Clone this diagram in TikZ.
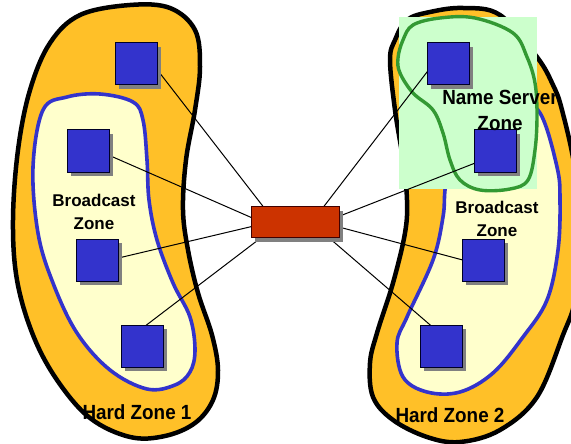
\documentclass[tikz,border=0pt]{standalone}
\usepackage{fontspec}
\setmainfont{Liberation Sans}
\usetikzlibrary{shadows,calc}
\definecolor{zoneorange}{RGB}{255,192,40}
\definecolor{cream}{RGB}{255,255,204}
\definecolor{hostblue}{RGB}{51,51,204}
\definecolor{nsgreen}{RGB}{51,153,51}
\definecolor{nsfill}{RGB}{204,255,204}
\definecolor{switchred}{RGB}{204,51,0}
\definecolor{shadowgray}{RGB}{128,128,128}
\pgfdeclarelayer{blobs}
\pgfdeclarelayer{wires}
\pgfsetlayers{blobs,wires,main}
\tikzset{
  hardzone/.style={fill=zoneorange, draw=black, line width=4.5pt},
  bcastzone/.style={fill=cream, draw=hostblue, line width=3.6pt},
  nszone/.style={draw=nsgreen, line width=3.4pt},
  host/.style={draw=black!85!blue, line width=1pt, fill=hostblue,
    minimum size=42pt, inner sep=0pt,
    drop shadow={shadow xshift=4pt, shadow yshift=-4pt, fill=shadowgray, opacity=1}},
  switchbox/.style={draw=black!75!red, line width=1pt, fill=switchred,
    minimum width=88pt, minimum height=31pt, inner sep=0pt,
    drop shadow={shadow xshift=4pt, shadow yshift=-5pt, fill=shadowgray, opacity=1}},
  wire/.style={draw=black, line width=1pt},
  smalllabel/.style={font=\bfseries\fontsize{17}{23}\selectfont, align=center, inner sep=0pt},
  biglabel/.style={font=\bfseries\fontsize{20.5}{26}\selectfont, align=center, inner sep=0pt, xscale=0.92},
}
\begin{document}
\begin{tikzpicture}[x=1pt, y=-1pt]
\useasboundingbox (0,0) rectangle (571,444);

% hosts and the central switch
\node[host] (s1) at (136,64) {};
\node[host] (s2) at (88,151) {};
\node[host] (s3) at (97,260) {};
\node[host] (s4) at (142,346) {};
\node[host] (s5) at (448,64) {};
\node[host] (s6) at (495,151) {};
\node[host] (s7) at (483,260) {};
\node[host] (s8) at (441,346) {};
\node[switchbox] (sw) at (295,221.5) {};

% zone labels
\node[smalllabel] (bz1) at (94,212) {Broadcast\\Zone};
\node[smalllabel] (bz2) at (497,219) {Broadcast\\Zone};
\node[biglabel] (nsz) at (500,110) {Name Server\\Zone};
\node[biglabel] (hz1) at (137,412) {Hard Zone 1};
\node[biglabel] (hz2) at (450,415) {Hard Zone 2};

\begin{pgfonlayer}{blobs}
  % hard zone 1 with its broadcast zone
  \draw[hardzone] plot[smooth cycle, tension=0.6] coordinates {
    (50,43) (80,15) (130,5) (170,8) (195,30) (200,67) (195,110) (186,160)
    (183,210) (188,250) (198,293) (212,335) (218,370) (213,400) (195,423)
    (165,436) (130,437) (90,418) (57,380) (33,335) (17,280) (13,220)
    (18,150) (30,90)};
  \draw[bcastzone] plot[smooth cycle, tension=0.6] coordinates {
    (43,110) (67,97) (100,94) (133,102) (143,120) (147,160) (149,200)
    (157,240) (173,283) (190,317) (195,350) (190,372) (175,385) (147,389)
    (110,370) (77,333) (53,283) (38,233) (33,167)};
  % hard zone 2 with its broadcast zone
  \draw[hardzone] plot[smooth cycle, tension=0.6] coordinates {
    (390,60) (395,40) (407,20) (430,12) (463,8) (500,15) (537,57) (553,85)
    (562,110) (575,170) (580,240) (575,300) (563,335) (537,397) (500,430)
    (460,442) (427,437) (393,420) (373,397) (370,363) (377,333) (393,283)
    (405,233) (407,200) (403,160) (395,110)};
  \draw[bcastzone] plot[smooth cycle, tension=0.6] coordinates {
    (515,100) (540,113) (557,167) (560,200) (558,250) (547,300) (523,337)
    (493,373) (460,392) (427,392) (403,377) (397,343) (407,317) (433,260)
    (443,217) (445,190) (450,150) (478,110)};
  % name server zone
  \fill[nsfill] (399,17) rectangle (537,189);
  \draw[nszone] plot[smooth cycle, tension=0.6] coordinates {
    (400,73) (398,58) (403,40) (413,25) (440,18) (475,18) (513,33) (527,57)
    (535,83) (537,115) (535,150) (528,180) (510,189) (480,190) (460,180)
    (450,160) (443,133) (433,110) (413,93)};
\end{pgfonlayer}

\begin{pgfonlayer}{wires}
  \draw[wire] ($(s1)+(16,-1)$) -- ($(sw)+(-28,-10)$);
  \draw[wire] ($(s2)+(13.5,1)$) -- ($(sw)+(-38,-1.5)$);
  \draw[wire] ($(s3)+(13,0)$) -- ($(sw)+(-39,4)$);
  \draw[wire] ($(s4)+(-6,-13)$) -- ($(sw)+(-31,14)$);
  \draw[wire] ($(s5)+(-11,-5)$) -- ($(sw)+(25,-10)$);
  \draw[wire] ($(s6)+(-7,7)$) -- ($(sw)+(41,-4)$);
  \draw[wire] ($(s7)+(-9,3)$) -- ($(sw)+(42,5)$);
  \draw[wire] ($(s8)+(-1.5,-13)$) -- ($(sw)+(30.5,13.3)$);
\end{pgfonlayer}
\end{tikzpicture}
\end{document}
